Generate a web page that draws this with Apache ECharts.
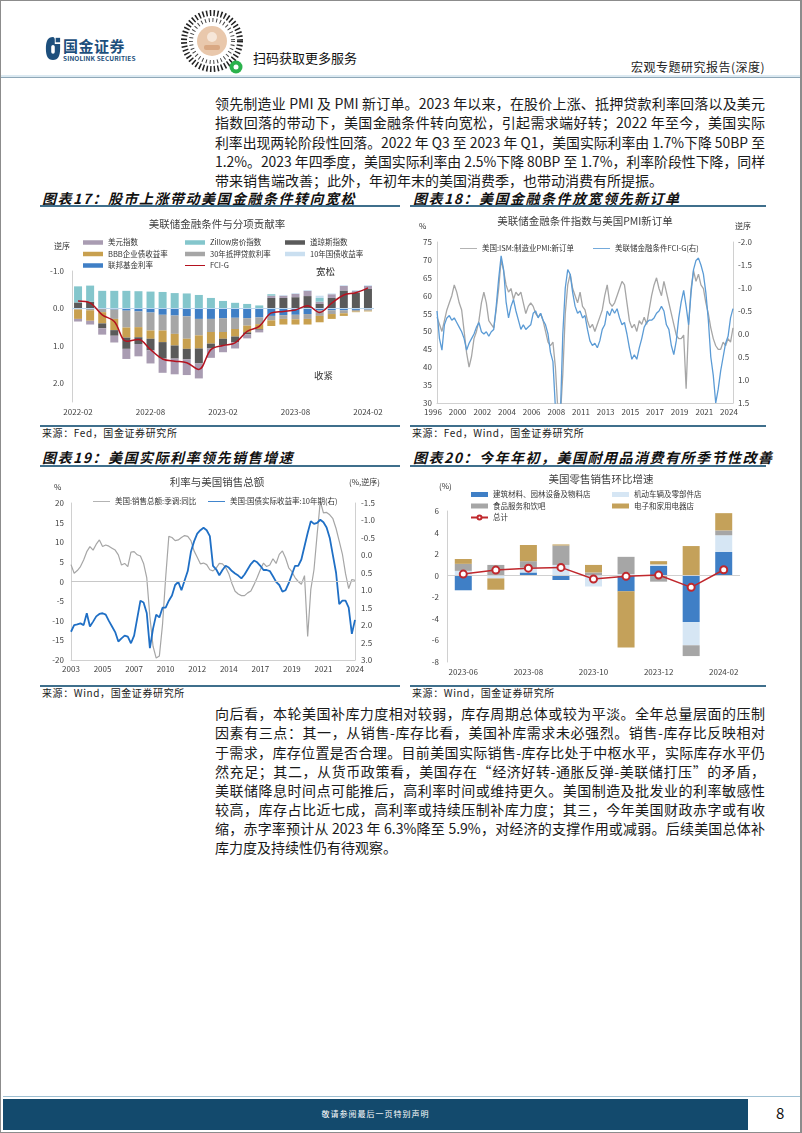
<!DOCTYPE html>
<html lang="zh-CN">
<head>
<meta charset="utf-8">
<title>宏观专题研究报告(深度)</title>
<script src="https://cdn.jsdelivr.net/npm/echarts@6/dist/echarts.min.js"></script>
<style>
  html, body { margin: 0; padding: 0; background: #fff; }
  #page { position: relative; width: 802px; height: 1133px; overflow: hidden; font-family: "Noto Sans CJK SC", "Noto Sans", sans-serif; color: #1a1a1a; }
  .frame { position: absolute; left: 0; top: 0; width: 802px; height: 1133px; box-sizing: border-box; border: 1px solid #8c8c8c; border-right-width: 2px; }
  .chart { position: absolute; left: 0; top: 0; width: 802px; height: 1133px; }
  .txt { position: absolute; left: 215px; width: 550px; height: 19px; line-height: 19px; font-size: 14px; white-space: nowrap; transform-origin: left center; }
  .txt.just { text-align: justify; text-align-last: justify; }
  .fig-title { position: absolute; font-size: 14px; font-weight: bold; font-style: italic; letter-spacing: 1.5px; line-height: 18px; color: #111; white-space: nowrap; }
  .rule { position: absolute; height: 2px; background: #3f6f8c; }
  .rule-light { position: absolute; height: 2px; background: #dbe9f1; }
  .src { position: absolute; font-size: 10px; line-height: 12px; color: #222; letter-spacing: 0.6px; }
</style>
</head>
<body>
<div id="page">
  <div class="frame"></div>

  <!-- 页眉 -->
  <svg style="position:absolute;left:45px;top:36px" width="16" height="25" viewBox="0 0 18 28">
    <path d="M9 1 C3 1 1 6 1 14 C1 22 3 27 9 27 C15 27 17 22 17 14 L17 9 L11 9 L11 4 C11 2 10 1 9 1 Z" fill="#1d4f7c"/>
    <rect x="12" y="2" width="5" height="5" fill="#1d4f7c"/>
    <rect x="7" y="10" width="4" height="10" rx="2" fill="#fff"/>
  </svg>
  <div style="position:absolute;left:63px;top:37px;font-size:15px;font-weight:bold;color:#1d4f7c;letter-spacing:0.5px;line-height:17px">国金证券</div>
  <div style="position:absolute;left:63px;top:54px;font-size:6.5px;font-weight:bold;color:#1d4f7c;line-height:8px;letter-spacing:0.1px">SINOLINK SECURITIES</div>
  <svg style="position:absolute;left:179px;top:7px" width="68" height="70" viewBox="0 0 68 70">
    <circle cx="33" cy="34" r="28" fill="none" stroke="#222" stroke-width="6" stroke-dasharray="1.5 2.2"/>
    <circle cx="33" cy="34" r="21" fill="none" stroke="#444" stroke-width="4" stroke-dasharray="1 2.8"/>
    <circle cx="33" cy="34" r="15" fill="#e9c8ac"/>
    <circle cx="33" cy="30" r="5" fill="#f6e6d8"/>
    <rect x="25" y="38" width="16" height="5" rx="2" fill="#d9a883"/>
    <circle cx="57" cy="60" r="6.5" fill="#2bb24c"/>
    <circle cx="57" cy="60" r="2.5" fill="#fff"/>
  </svg>
  <div style="position:absolute;left:253px;top:49px;font-size:13px;line-height:17px;color:#111">扫码获取更多服务</div>
  <div style="position:absolute;right:37px;top:59px;font-size:12px;line-height:16px;color:#222;letter-spacing:0.5px">宏观专题研究报告(深度)</div>
  <div class="rule-light" style="left:1px;width:799px;top:75px"></div>
  <div style="position:absolute;left:1px;width:799px;top:77px;height:1px;background:#8fa8b8"></div>

  <!-- 正文一 -->
  <div class="txt" style="top:94px"><span>领先制造业 PMI 及 PMI 新订单。2023 年以来，在股价上涨、抵押贷款利率回落以及美元</span></div>
  <div class="txt" style="top:113px"><span>指数回落的带动下，美国金融条件转向宽松，引起需求端好转；2022 年至今，美国实际</span></div>
  <div class="txt" style="top:133px"><span>利率出现两轮阶段性回落。2022 年 Q3 至 2023 年 Q1，美国实际利率由 1.7%下降 50BP 至</span></div>
  <div class="txt" style="top:152px"><span>1.2%。2023 年四季度，美国实际利率由 2.5%下降 80BP 至 1.7%，利率阶段性下降，同样</span></div>
  <div class="txt last" style="top:171px"><span>带来销售端改善；此外，年初年末的美国消费季，也带动消费有所提振。</span></div>

  <!-- 图表标题与来源 -->
  <div class="fig-title" style="left:42px;top:189px">图表17：股市上涨带动美国金融条件转向宽松</div>
  <div class="fig-title" style="left:413px;top:189px">图表18：美国金融条件放宽领先新订单</div>
  <div class="rule" style="left:40px;width:360px;top:205px"></div>
  <div class="rule" style="left:410px;width:356px;top:205px"></div>
  <div class="rule" style="left:40px;width:360px;top:425px;height:1.5px"></div>
  <div class="rule" style="left:410px;width:356px;top:425px;height:1.5px"></div>
  <div class="src" style="left:42px;top:427px">来源：Fed，国金证券研究所</div>
  <div class="src" style="left:412px;top:427px">来源：Fed，Wind，国金证券研究所</div>

  <div class="fig-title" style="left:42px;top:448px">图表19：美国实际利率领先销售增速</div>
  <div class="fig-title" style="left:413px;top:448px">图表20：今年年初，美国耐用品消费有所季节性改善</div>
  <div class="rule" style="left:40px;width:360px;top:465px"></div>
  <div class="rule" style="left:410px;width:356px;top:465px"></div>
  <div class="rule" style="left:40px;width:360px;top:685px;height:1.5px"></div>
  <div class="rule" style="left:410px;width:356px;top:685px;height:1.5px"></div>
  <div class="src" style="left:42px;top:687px">来源：Wind，国金证券研究所</div>
  <div class="src" style="left:412px;top:687px">来源：Wind，国金证券研究所</div>

  <!-- 正文二 -->
  <div class="txt" style="top:704px"><span>向后看，本轮美国补库力度相对较弱，库存周期总体或较为平淡。全年总量层面的压制</span></div>
  <div class="txt" style="top:723px"><span>因素有三点：其一，从销售-库存比看，美国补库需求未必强烈。销售-库存比反映相对</span></div>
  <div class="txt" style="top:743px"><span>于需求，库存位置是否合理。目前美国实际销售-库存比处于中枢水平，实际库存水平仍</span></div>
  <div class="txt" style="top:762px"><span>然充足；其二，从货币政策看，美国存在“经济好转-通胀反弹-美联储打压”的矛盾，</span></div>
  <div class="txt" style="top:781px"><span>美联储降息时间点可能推后，高利率时间或维持更久。美国制造及批发业的利率敏感性</span></div>
  <div class="txt" style="top:800px"><span>较高，库存占比近七成，高利率或持续压制补库力度；其三，今年美国财政赤字或有收</span></div>
  <div class="txt" style="top:819px"><span>缩，赤字率预计从 2023 年 6.3%降至 5.9%，对经济的支撑作用或减弱。后续美国总体补</span></div>
  <div class="txt last" style="top:838px"><span>库力度及持续性仍有待观察。</span></div>

  <!-- 页脚 -->
  <div style="position:absolute;left:3px;width:797px;top:1096px;height:1px;background:#9fc0d3"></div>
  <div style="position:absolute;left:3px;width:745px;top:1099px;height:31px;background:#134a6d"></div>
  <div style="position:absolute;left:3px;width:745px;top:1108px;font-size:8px;line-height:12px;color:#fff;text-align:center;letter-spacing:1px">敬请参阅最后一页特别声明</div>
  <div style="position:absolute;left:776px;top:1104px;font-size:15px;line-height:18px;color:#111">8</div>

  <div id="c17" class="chart"></div>
  <div id="c18" class="chart"></div>
  <div id="c19" class="chart"></div>
  <div id="c20" class="chart"></div>
</div>

<script>
// ---------- 图表17 数据 ----------
const c17Months = ['2022-02','2022-03','2022-04','2022-05','2022-06','2022-07','2022-08','2022-09','2022-10','2022-11','2022-12','2023-01','2023-02','2023-03','2023-04','2023-05','2023-06','2023-07','2023-08','2023-09','2023-10','2023-11','2023-12','2024-01','2024-02'];
const c17Fed    = [0, 0, 0, 0.03, 0.06, 0.08, 0.11, 0.17, 0.19, 0.21, 0.28, 0.28, 0.26, 0.25, 0.26, 0.24, 0.2, 0.18, 0.17, 0.15, 0.05, 0.05, 0.05, 0.04, 0.03];
const c17M30    = [0.03, 0.05, 0.1, 0.25, 0.45, 0.42, 0.48, 0.42, 0.49, 0.6, 0.44, 0.35, 0.37, 0.3, 0.2, 0.18, 0.12, 0.1, 0.12, 0.13, 0.15, 0.1, 0.08, 0.04, 0.03];
const c17Bbb    = [0.25, 0.28, 0.3, 0.3, 0.27, 0.27, 0.22, 0.31, 0.31, 0.27, 0.35, 0.31, 0.18, 0.2, 0.18, 0.13, 0.15, 0.15, 0.14, 0.15, 0.17, 0.13, 0.07, 0.02, 0.02];
const c17Dow    = [-0.16, -0.18, 0.13, 0.15, 0.3, 0.18, 0.31, 0.44, 0.35, 0.28, 0.4, 0.13, 0.18, 0.16, 0.05, 0.02, -0.28, -0.28, -0.3, -0.33, -0.12, -0.28, -0.48, -0.42, -0.52];
const c17Usd    = [0.07, 0.1, 0.17, 0.18, 0.27, 0.33, 0.35, 0.38, 0.42, 0.42, 0.4, 0.25, 0.18, 0.16, 0.11, 0.07, -0.06, -0.06, -0.09, -0.14, -0.06, -0.1, -0.12, -0.05, -0.08];
const c17Zillow = [-0.43, -0.43, -0.47, -0.47, -0.47, -0.46, -0.45, -0.44, -0.41, -0.4, -0.36, -0.28, -0.2, -0.15, -0.12, -0.08, -0.04, 0, 0, 0, -0.1, 0, 0, 0, 0];
const c17T10    = [0, 0, 0, 0, 0, 0, 0, 0, 0, 0, 0, 0, 0, 0, 0, 0, 0, -0.02, -0.02, -0.02, -0.06, -0.02, -0.02, -0.02, -0.02];
const c17Fcig   = [-0.2, -0.15, 0.17, 0.35, 0.88, 0.83, 1.1, 1.35, 1.41, 1.45, 1.63, 1.1, 0.99, 0.92, 0.61, 0.48, 0.12, 0.08, 0.04, -0.07, 0.11, -0.14, -0.36, -0.42, -0.55];

// ---------- 图表18 数据 ----------
const c18TickLabels = ['1996','2000','2002','2004','2006','2008','2011','2013','2015','2017','2019','2021','2024'];
const c18Ism = [54,52,50,53,56,58,60,63,61,58,
  56,50,44,40,43,48,50,53,58,61,
  58,53,52,51,56,62,70,67,63,61,
  62,59,61,60,61,58,55,57,58,57,
  55,54,55,53,50,47,46,47,40,28,
  26,38,55,63,66,62,60,58,61,57,
  56,53,51,52,50,52,54,56,60,63,
  58,57,58,60,62,64,63,58,53,51,
  52,50,53,52,54,52,56,60,63,65,
  62,60,64,61,58,55,52,49,48,48,
  49,34,52,62,67,64,66,63,62,58,
  55,51,48,46,45,45,47,46,48,47,
  51];
const c18Fcig = [-0.5,0.1,0.35,-0.2,-0.35,-0.4,-0.3,-0.35,-0.25,-0.15,
  -0.05,0.1,0.35,0.2,0.1,0.0,-0.15,-0.25,-0.05,0.0,
  -0.05,0.05,-0.05,-0.1,-0.6,-1.2,-1.7,-1.4,-0.7,-0.35,
  -0.6,-0.75,-0.5,-0.3,-0.1,-0.2,-0.1,-0.15,-0.2,-0.45,
  -0.5,-0.35,-0.45,-0.3,-0.2,0.0,0.4,0.6,1.6,2.2,
  1.8,0.0,-1.0,-1.4,-1.3,-0.9,-0.6,-0.45,-0.5,-0.35,
  -0.4,-0.1,0.15,0.25,0.2,0.3,0.15,-0.1,-0.2,-0.5,
  -0.4,-0.55,-0.45,-0.55,-0.35,-0.2,-0.25,0.0,0.3,0.55,
  0.45,0.55,0.3,0.1,-0.15,-0.25,-0.3,-0.3,-0.35,-0.45,
  -0.5,-0.6,-0.5,-0.2,-0.1,0.25,0.45,0.15,-0.35,-0.7,
  -0.95,-0.6,-0.2,-0.9,-1.4,-1.6,-1.65,-1.5,-1.3,-0.9,
  -0.3,0.5,0.9,1.5,1.2,0.8,0.5,0.2,0.05,-0.35,
  -0.55];

// ---------- 图表19 数据 ----------
const c19TickLabels = ['2003','2005','2007','2010','2012','2014','2017','2019','2021','2024'];
const c19Sales = [4.3,2.1,2.8,3.8,5.5,7.6,8.9,8.0,9.5,10.6,
  8.9,9.3,9.0,8.5,8.0,6.8,4.2,4.6,3.8,7.5,
  7.6,6.8,6.5,4.6,1.0,-9,-16.5,-19.5,-19,-11,
  1,11.5,11.2,10.4,10.6,11.2,11.7,11.5,10.4,7.8,
  6.2,4.5,4.7,4.3,3.0,2.7,3.4,4.6,4.5,3.6,
  2.0,-0.5,-2.5,-3.2,-3.6,-3.6,-2.9,-2.4,-0.8,1.0,
  3.0,4.7,3.8,4.2,5.8,4.6,6.9,7.8,6.0,3.5,
  2.5,1.0,0.0,-0.7,1.5,-14,-2,3,12,20.4,
  17.5,17.6,17.0,16.0,13.5,10.3,7.0,2.0,-1.8,0.5,
  0.3];
const c19Real = [2.19,2.0,1.98,1.95,2.0,1.66,2.04,1.9,1.75,1.68,
  1.66,1.7,1.88,2.04,2.2,2.47,2.38,2.3,2.33,2.52,
  2.3,1.8,1.3,1.35,1.65,2.66,2.1,1.7,1.78,1.5,
  1.5,1.3,1.15,0.85,0.76,1.0,0.72,0.45,-0.1,-0.4,
  -0.62,-0.72,-0.79,-0.72,-0.55,0.3,0.4,0.57,0.42,0.3,
  0.35,0.45,0.52,0.58,0.66,0.55,0.4,0.25,0.15,0.2,
  0.3,0.42,0.42,0.45,0.6,0.76,0.85,1.04,1.0,0.8,
  0.55,0.3,0.3,0.12,-0.26,-0.64,-0.98,-0.9,-0.93,-1.02,
  -0.95,-0.8,-0.5,0.0,0.5,1.4,1.3,1.3,1.5,2.25,
  1.85];

// ---------- 图表20 数据 ----------
const c20Months = ['2023-06','2023-07','2023-08','2023-09','2023-10','2023-11','2023-12','2024-01','2024-02'];
const c20Build  = [-1.35, 0, 0.3, -0.4, 0.05, -1.45, 0.9, -4.3, 2.2];
const c20Motor  = [0.45, -0.25, 0.45, 1.0, -1.0, 0.15, 0.15, -2.15, 1.55];
const c20Food   = [0.65, 1.0, 0.6, 1.8, 0.25, 1.6, -0.55, -1.0, 0.45];
const c20Elec   = [0.45, -1.05, 1.5, 0.1, 0.7, -5.2, 0.3, 2.75, 1.6];
const c20Total  = [0.15, 0.52, 0.7, 0.77, -0.3, -0.06, 0.06, -1.08, 0.55];

const baseFont = '"Noto Sans CJK SC", "Noto Sans", sans-serif';
const axisColor = '#d0d0d0';
const labelColor = '#404040';
const legendText = { fontSize: 7.5, lineHeight: 9, color: '#333' };
const lineIcon = 'path://M0,0 L20,0 L20,1 L0,1 Z';

function chartTitle(text, x, y) {
  return { text, left: x, top: y, textAlign: 'center', padding: 0,
    textStyle: { fontSize: 10.5, fontWeight: 'normal', color: '#404040', fontFamily: baseFont } };
}
function note(text, x, y, size) {
  return { type: 'text', left: x, top: y, style: { text, fontSize: size || 8, fill: '#333', fontFamily: baseFont } };
}
function zeroLine(color) {
  return { silent: true, symbol: 'none', label: { show: false }, lineStyle: { color, width: 1, type: 'solid' }, data: [{ yAxis: 0 }] };
}

//图表17 金融条件分项贡献
function getC17Option() {
  const parts = [
    ['联邦基金利率', c17Fed, '#3f7fc6'],
    ['30年抵押贷款利率', c17M30, '#a6a6a6'],
    ['BBB企业债收益率', c17Bbb, '#c8a04f'],
    ['道琼斯指数', c17Dow, '#5a5a5a'],
    ['美元指数', c17Usd, '#a99cb2'],
    ['Zillow房价指数', c17Zillow, '#84c6cc'],
    ['10年国债收益率', c17T10, '#cadff0'],
  ];
  const bars = parts.map(([name, data, color], i) => ({
    name, type: 'bar', stack: 'fci', data, barWidth: 8,
    itemStyle: { color },
    markLine: i === 0 ? zeroLine('#bdd7ee') : undefined,
  }));
  const legendBase = { orient: 'vertical', icon: 'rect', itemWidth: 20, itemHeight: 4.5, itemGap: 2.5, padding: 0, selectedMode: false, textStyle: legendText };
  return {
    animation: false,
    textStyle: { fontFamily: baseFont },
    title: chartTitle('美联储金融条件与分项贡献率', 217, 219),
    legend: [
      { ...legendBase, left: 83, top: 238, data: ['美元指数', 'BBB企业债收益率', '联邦基金利率'] },
      { ...legendBase, left: 185, top: 238, data: ['Zillow房价指数', '30年抵押贷款利率', { name: 'FCI-G', icon: lineIcon }] },
      { ...legendBase, left: 285, top: 238, data: ['道琼斯指数', '10年国债收益率'] },
    ],
    grid: { left: 72, top: 271, width: 302, height: 131 },
    xAxis: {
      type: 'category', data: c17Months,
      axisLine: { show: false, onZero: false }, axisTick: { show: false },
      axisLabel: { interval: 5, fontSize: 8, color: labelColor, margin: 6 },
    },
    yAxis: {
      type: 'value', inverse: true, min: -1, max: 2.5, interval: 1,
      axisLine: { show: true, lineStyle: { color: axisColor } }, axisTick: { show: false },
      splitLine: { show: false },
      axisLabel: { fontSize: 8, color: labelColor, margin: 8, showMaxLabel: false, formatter: (v) => v.toFixed(1) },
    },
    series: [
      ...bars,
      { name: 'FCI-G', type: 'line', data: c17Fcig, smooth: 0.35, symbol: 'none', z: 5,
        lineStyle: { color: '#b4121f', width: 1.5 }, itemStyle: { color: '#b4121f' } },
    ],
    graphic: [
      note('逆序', 54, 242),
      note('宽松', 316, 267, 9.5),
      note('收紧', 314, 371, 9.5),
    ],
  };
}

//图表18 FCI-G与ISM新订单
function getC18Option() {
  const legendBase = { itemWidth: 17, itemHeight: 1.5, padding: 0, selectedMode: false, textStyle: legendText };
  return {
    animation: false,
    textStyle: { fontFamily: baseFont },
    title: chartTitle('美联储金融条件指数与美国PMI新订单', 585, 216),
    legend: [
      { ...legendBase, left: 460, top: 244, data: [{ name: '美国:ISM:制造业PMI:新订单', icon: lineIcon }] },
      { ...legendBase, left: 593, top: 244, data: [{ name: '美联储金融条件FCI-G(右)', icon: lineIcon }] },
    ],
    grid: { left: 437, top: 242, width: 296, height: 161 },
    xAxis: {
      type: 'category', data: c18Ism.map((_v, i) => i), boundaryGap: false,
      axisLine: { show: true, onZero: false, lineStyle: { color: axisColor } }, axisTick: { show: false },
      axisLabel: { interval: 9, fontSize: 8, color: labelColor, margin: 5, padding: [0, 8, 0, 0],
        formatter: (_v, i) => c18TickLabels[i / 10] ?? '' },
    },
    yAxis: [
      { type: 'value', min: 30, max: 75, interval: 5,
        axisLine: { show: true, lineStyle: { color: axisColor } }, axisTick: { show: false }, splitLine: { show: false },
        axisLabel: { fontSize: 8, color: labelColor, margin: 5 } },
      { type: 'value', position: 'right', inverse: true, min: -2, max: 1.5, interval: 0.5,
        axisLine: { show: true, lineStyle: { color: axisColor } }, axisTick: { show: false }, splitLine: { show: false },
        axisLabel: { fontSize: 8, color: labelColor, margin: 5, formatter: (v) => v.toFixed(1) } },
    ],
    series: [
      { name: '美国:ISM:制造业PMI:新订单', type: 'line', yAxisIndex: 0, data: c18Ism, symbol: 'none',
        lineStyle: { color: '#a6a6a6', width: 1.3 }, itemStyle: { color: '#a6a6a6' } },
      { name: '美联储金融条件FCI-G(右)', type: 'line', yAxisIndex: 1, data: c18Fcig, symbol: 'none',
        lineStyle: { color: '#5b9bd5', width: 1.3 }, itemStyle: { color: '#5b9bd5' } },
    ],
    graphic: [
      note('%', 419, 222),
      note('逆序', 735, 222),
    ],
  };
}

//图表19 实际利率与销售总额
function getC19Option() {
  const legendBase = { itemWidth: 17, padding: 0, selectedMode: false, textStyle: legendText };
  return {
    animation: false,
    textStyle: { fontFamily: baseFont },
    title: chartTitle('利率与美国销售总额', 217, 477),
    legend: [
      { ...legendBase, itemHeight: 1.3, left: 93, top: 497, data: [{ name: '美国:销售总额:季调:同比', icon: lineIcon }] },
      { ...legendBase, itemHeight: 2, left: 208, top: 497, data: [{ name: '美国:国债实际收益率:10年期(右)', icon: lineIcon }] },
    ],
    grid: { left: 71, top: 503, width: 284, height: 157 },
    xAxis: {
      type: 'category', data: c19Sales.map((_v, i) => i), boundaryGap: false,
      axisLine: { show: true, onZero: false, lineStyle: { color: axisColor } }, axisTick: { show: false },
      axisLabel: { interval: 9, fontSize: 8, color: labelColor, margin: 5,
        formatter: (_v, i) => c19TickLabels[i / 10] ?? '' },
    },
    yAxis: [
      { type: 'value', min: -20, max: 20, interval: 5,
        axisLine: { show: true, lineStyle: { color: axisColor } }, axisTick: { show: false }, splitLine: { show: false },
        axisLabel: { fontSize: 8, color: labelColor, margin: 7 } },
      { type: 'value', position: 'right', inverse: true, min: -1.5, max: 3, interval: 0.5,
        axisLine: { show: true, lineStyle: { color: axisColor } }, axisTick: { show: false }, splitLine: { show: false },
        axisLabel: { fontSize: 8, color: labelColor, margin: 6, formatter: (v) => v.toFixed(1) } },
    ],
    series: [
      { name: '美国:销售总额:季调:同比', type: 'line', yAxisIndex: 0, data: c19Sales, symbol: 'none',
        lineStyle: { color: '#a6a6a6', width: 1.2 }, itemStyle: { color: '#a6a6a6' },
        markLine: zeroLine('#c8c8c8') },
      { name: '美国:国债实际收益率:10年期(右)', type: 'line', yAxisIndex: 1, data: c19Real, symbol: 'none',
        lineStyle: { color: '#1f6fc5', width: 1.8 }, itemStyle: { color: '#1f6fc5' } },
    ],
    graphic: [
      note('%', 54, 483),
      note('(%,逆序)', 349, 478),
    ],
  };
}

//图表20 零售销售环比
function getC20Option() {
  const parts = [
    ['建筑材料、园林设备及物料店', c20Build, '#3f7fc6'],
    ['机动车辆及零部件店', c20Motor, '#d6e6f4'],
    ['食品服务和饮吧', c20Food, '#a6a6a6'],
    ['电子和家用电器店', c20Elec, '#c4a15a'],
  ];
  const bars = parts.map(([name, data, color], i) => ({
    name, type: 'bar', stack: 'retail', data, barWidth: 17,
    itemStyle: { color },
    markLine: i === 0 ? zeroLine('#d0d0d0') : undefined,
  }));
  const legendBase = { orient: 'vertical', itemWidth: 17, itemHeight: 5, itemGap: 2.5, padding: 0, selectedMode: false, textStyle: legendText };
  return {
    animation: false,
    textStyle: { fontFamily: baseFont },
    title: chartTitle('美国零售销售环比增速', 601, 474),
    legend: [
      { ...legendBase, left: 470, top: 490, data: [
        { name: '建筑材料、园林设备及物料店', icon: 'rect' }, { name: '食品服务和饮吧', icon: 'rect' }, '总计'] },
      { ...legendBase, left: 612, top: 490, data: [
        { name: '机动车辆及零部件店', icon: 'rect' }, { name: '电子和家用电器店', icon: 'rect' }] },
    ],
    grid: { left: 447, top: 511, width: 293, height: 151 },
    xAxis: {
      type: 'category', data: c20Months,
      axisLine: { show: false, onZero: false }, axisTick: { show: false },
      axisLabel: { interval: 1, fontSize: 8, color: labelColor, margin: 6 },
    },
    yAxis: {
      type: 'value', min: -8, max: 6, interval: 2,
      axisLine: { show: true, lineStyle: { color: axisColor } }, axisTick: { show: false }, splitLine: { show: false },
      axisLabel: { fontSize: 8, color: labelColor, margin: 8 },
    },
    series: [
      ...bars,
      { name: '总计', type: 'line', data: c20Total, symbol: 'emptyCircle', symbolSize: 7, z: 5,
        lineStyle: { color: '#c0282d', width: 1.5 }, itemStyle: { color: '#c0282d', borderWidth: 1.2 } },
    ],
    graphic: [note('(%)', 439, 482)],
  };
}

function setChart(id, option) {
  const chart = echarts.init(document.getElementById(id), null, { renderer: 'canvas' });
  chart.setOption(option, true);
  return chart;
}
setChart('c17', getC17Option());
setChart('c18', getC18Option());
setChart('c19', getC19Option());
setChart('c20', getC20Option());

// 正文行宽对齐：超宽的行压缩，其余两端对齐
document.querySelectorAll('.txt').forEach((el) => {
  const w = el.firstElementChild.getBoundingClientRect().width;
  if (w > 550) {
    el.style.transform = 'scaleX(' + (550 / w).toFixed(4) + ')';
    el.style.width = w + 'px';
  } else if (!el.classList.contains('last')) {
    el.classList.add('just');
  }
});
</script>
</body>
</html>
